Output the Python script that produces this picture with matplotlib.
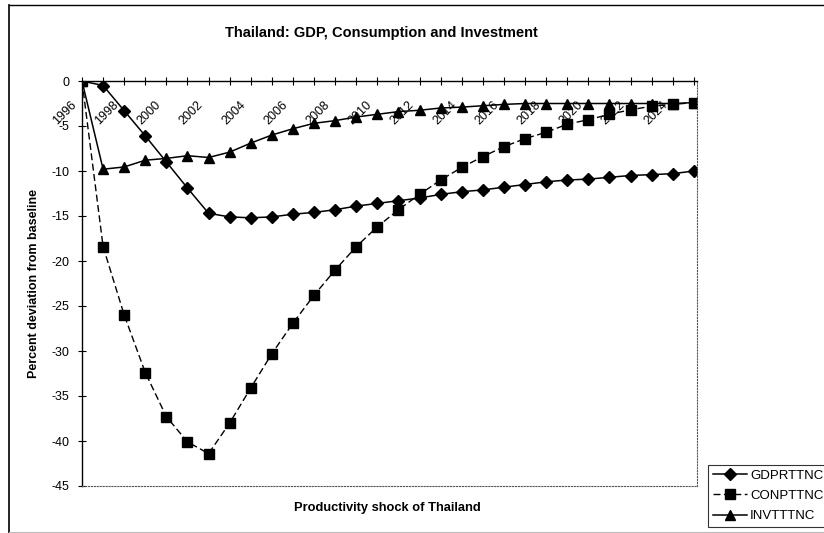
import numpy as np
import matplotlib
matplotlib.use('Agg')
import matplotlib.pyplot as plt
import matplotlib.transforms as mtransforms
from matplotlib.lines import Line2D

plt.rcParams['font.family'] = ['Liberation Sans', 'DejaVu Sans']
plt.rcParams['axes.unicode_minus'] = False

# === Data ===
years = list(range(1996, 2026))
gdp = [0, -0.5, -3.3, -6.1, -9.0, -11.9, -14.7, -15.1, -15.2, -15.1,
       -14.8, -14.6, -14.3, -13.9, -13.6, -13.3, -13.0, -12.6, -12.3, -12.1,
       -11.8, -11.5, -11.2, -11.0, -10.9, -10.7, -10.5, -10.4, -10.3, -10.0]
con = [0, -18.4, -26.0, -32.4, -37.3, -40.1, -41.4, -38.0, -34.1, -30.3,
       -26.9, -23.8, -21.0, -18.4, -16.2, -14.3, -12.6, -11.0, -9.6, -8.4,
       -7.3, -6.4, -5.7, -4.8, -4.3, -3.7, -3.2, -2.8, -2.6, -2.4]
inv = [0, -9.8, -9.55, -8.8, -8.6, -8.3, -8.5, -7.9, -6.9, -6.0,
       -5.3, -4.7, -4.4, -4.0, -3.7, -3.4, -3.25, -3.0, -2.9, -2.75,
       -2.6, -2.5, -2.5, -2.5, -2.5, -2.5, -2.5, -2.5, -2.5, -2.4]
yticks = [0, -5, -10, -15, -20, -25, -30, -35, -40, -45]

# === Plot ===
W, H = 824, 533
fig = plt.figure(figsize=(W / 100, H / 100), dpi=100)
ax = fig.add_axes([82 / W, 1 - 486 / H, (697 - 82) / W, (486 - 81) / H])

ax.plot(years, gdp, color='black', lw=1.1, marker='D', ms=6, label='GDPRTTNC')
ax.plot(years, con, color='black', lw=1.0, ls=(0, (5, 2.5)), marker='s', ms=6.5,
        label='CONPTTNC')
ax.plot(years, inv, color='black', lw=1.1, marker='^', ms=7.5, label='INVTTTNC')

ax.set_xlim(1996, 2025.15)
ax.set_ylim(-45, 0)

# x axis sits at y=0 (top); dotted frame at bottom/right
ax.spines['bottom'].set_position(('data', 0))
ax.spines['bottom'].set_linewidth(1.0)
ax.spines['top'].set_position(('data', -45))
ax.spines['top'].set_linestyle(':')
ax.spines['top'].set_color('#555555')
ax.spines['right'].set_linestyle(':')
ax.spines['right'].set_color('#555555')
ax.spines['left'].set_linewidth(1.0)

ax.set_xticks(years)
ax.set_xticklabels([str(y) if (y - 1996) % 2 == 0 else '' for y in years])
ax.tick_params(axis='x', direction='inout', length=6, width=0.8, top=False,
               labelsize=9, pad=10)
offset = mtransforms.ScaledTranslation(-3 / 100, 0, fig.dpi_scale_trans)
for lab in ax.get_xticklabels():
    lab.set_rotation(45)
    lab.set_ha('right')
    lab.set_va('top')
    lab.set_transform(lab.get_transform() + offset)

ax.set_yticks(yticks)
ax.tick_params(axis='y', direction='inout', length=6, width=0.8, right=False,
               labelsize=9, pad=6)

ax.set_ylabel('Percent deviation from baseline', fontsize=9, fontweight='bold',
              labelpad=8)
fig.text(387 / W, 1 - 508 / H, 'Productivity shock of Thailand', fontsize=9.3,
         fontweight='bold', ha='center', va='center')
fig.text(381 / W, 1 - 33 / H, 'Thailand: GDP, Consumption and Investment',
         fontsize=10.5, fontweight='bold', ha='center', va='center')

leg = fig.legend(loc='upper left', bbox_to_anchor=(708 / W, 1 - 465 / H),
                 fontsize=9.5, frameon=True, fancybox=False, edgecolor='black',
                 handlelength=2.6, handletextpad=0.25, borderpad=0.35,
                 labelspacing=0.6, borderaxespad=0)
leg.get_frame().set_linewidth(0.8)

# outer chart frame
fig.add_artist(Line2D([9 / W, 9 / W], [0, 1 - 5 / H], color='black', lw=1.2))
fig.add_artist(Line2D([9 / W, 1], [1 - 5 / H, 1 - 5 / H], color='black', lw=1.0))
fig.add_artist(Line2D([9 / W, 1], [1.5 / H, 1.5 / H], color='#bbbbbb', lw=0.8))

plt.savefig('out.png', dpi=100)
plt.close()
